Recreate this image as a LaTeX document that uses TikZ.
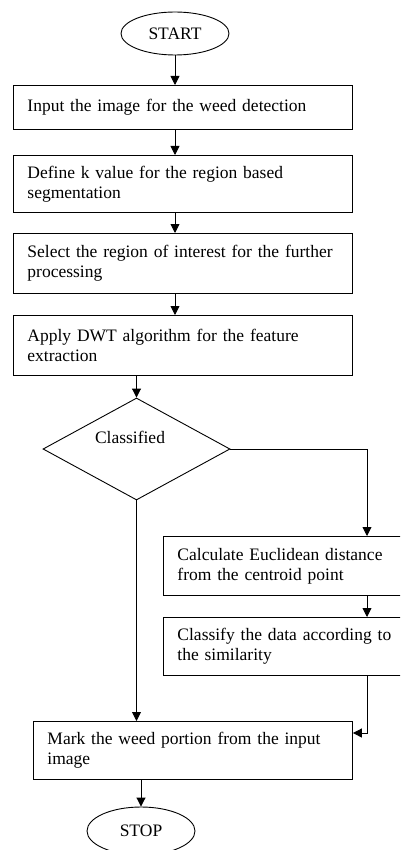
\documentclass[tikz,border=0pt]{standalone}
\usepackage{fontspec}
\setmainfont{Liberation Serif}
\usetikzlibrary{shapes.geometric,arrows.meta}
\begin{document}
\begin{tikzpicture}[x=1pt,y=-1pt,
  font=\fontsize{17.5}{20}\selectfont,
  line width=0.9pt,
  arr/.style={-{Triangle[length=9pt,width=9pt]}},
  box/.style={draw,rectangle,anchor=north west,align=left,inner xsep=14pt,inner ysep=2pt},
  term/.style={draw,ellipse,inner sep=0pt},
]
\useasboundingbox (0,0) rectangle (400,850);
\clip (0,0) rectangle (400,850);
\fill[white] (0,0) rectangle (400,850);
\node[term,minimum width=108pt,minimum height=43pt] (start) at (175,33.5) {START};
\node[box,text width=311pt,minimum height=44pt] (b1) at (13,85) {Input the image for the weed detection};
\node[box,text width=311pt,minimum height=57pt] (b2) at (13,155) {Define k value for the region based\\segmentation};
\node[box,text width=311pt,minimum height=60pt] (b3) at (13,233) {Select the region of interest for the further\\processing};
\node[box,text width=311pt,minimum height=60pt] (b4) at (13,315) {Apply DWT algorithm for the feature\\extraction};
\node[draw,diamond,minimum width=187pt,minimum height=102pt,inner sep=0pt] (dia) at (136.5,449) {};
\node (cl) at (130,437) {Classified};
\node[box,text width=232pt,minimum height=59pt] (b5) at (163,536) {Calculate Euclidean distance\\from the centroid point};
\node[box,text width=232pt,minimum height=58pt] (b6) at (163,617) {Classify the data according to\\the similarity};
\node[box,text width=291pt,minimum height=58pt] (b7) at (33,721) {Mark the weed portion from the input\\image};
\node[term,minimum width=108pt,minimum height=48pt] (stop) at (141,831) {STOP};
\draw[arr] (start.south) -- (start.south |- b1.north);
\draw[arr] (start.south |- b1.south) -- (start.south |- b2.north);
\draw[arr] (start.south |- b2.south) -- (start.south |- b3.north);
\draw[arr] (start.south |- b3.south) -- (start.south |- b4.north);
\draw[arr] (dia.north |- b4.south) -- (dia.north);
\draw[arr] (dia.east) -| ([xshift=204pt]b5.north west);
\draw[arr] ([xshift=204pt]b5.south west) -- ([xshift=204pt]b6.north west);
\draw[arr] ([xshift=204pt]b6.south west) |- ([yshift=-12pt]b7.north east);
\draw[arr] (dia.south) -- (dia.south |- b7.north);
\draw[arr] (stop.north |- b7.south) -- (stop.north);
\end{tikzpicture}
\end{document}
